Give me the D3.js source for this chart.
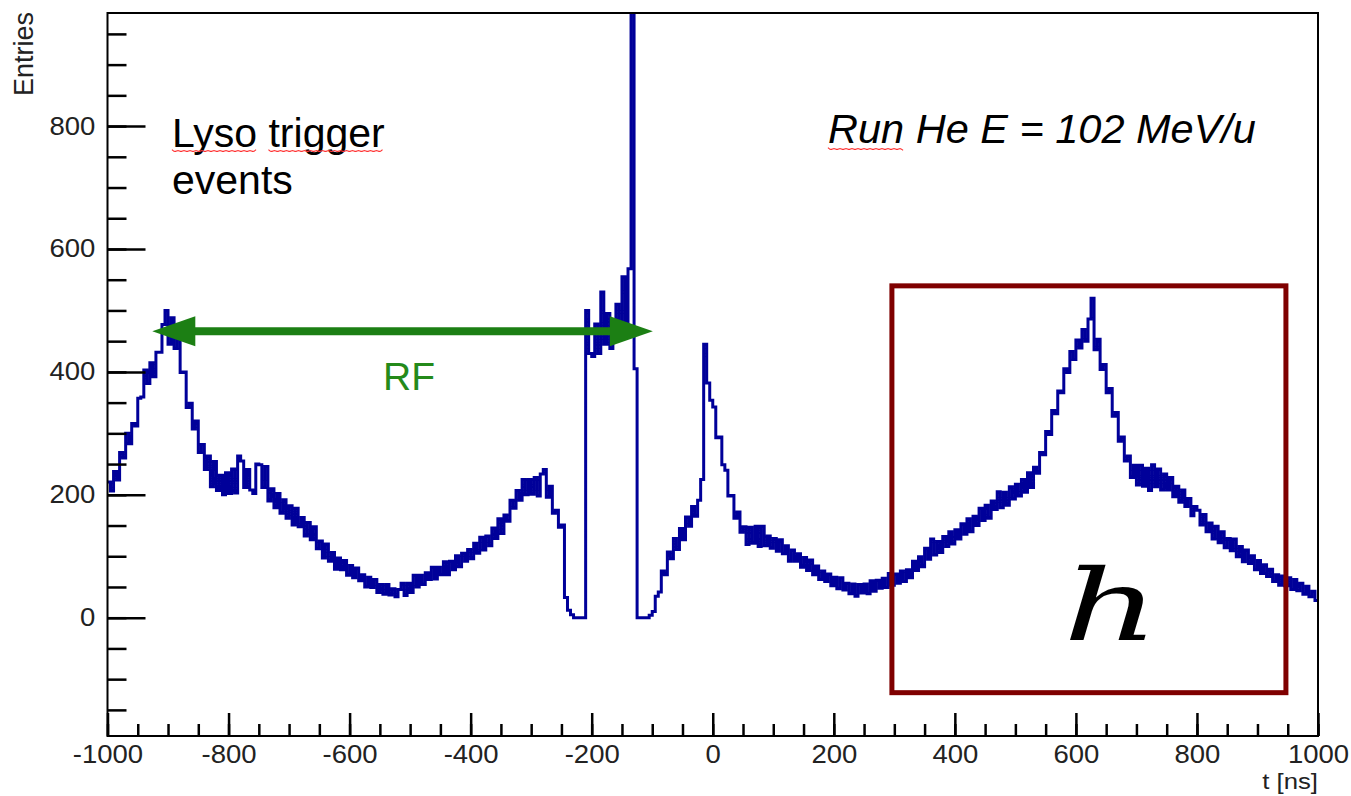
<!DOCTYPE html>
<html>
<head>
<meta charset="utf-8">
<script src="https://cdn.jsdelivr.net/npm/d3@7"></script>
<style>
  body { margin: 0; background: #fff; }
  svg text { font-family: "Liberation Sans", Arial, Helvetica, sans-serif; }
</style>
</head>
<body>
<div id="chart"></div>
<script>
// histogram: 5 ns bins from -1000 ns, counts
const binStart = -1000;
const binWidth = 5;
const counts = [
  221,206,238,224,269,260,300,283,316,312,357,359,403,381,415,392,432,432,477,500,   // -1000
  445,488,438,453,399,400,342,349,307,320,269,282,241,263,213,254,207,232,200,236,   // -900
  202,242,203,263,255,212,241,208,202,250,249,212,246,190,210,179,202,170,192,162,   // -800
  182,151,178,148,163,133,155,127,148,112,125,97,120,92,106,79,97,78,93,69,          // -700
  85,65,81,60,70,50,66,49,62,41,54,38,54,37,47,34,46,56,36,56,                       // -600
  41,69,50,69,54,73,62,82,63,82,70,91,70,92,78,101,83,105,92,111,                    // -500
  96,121,105,131,110,133,117,146,129,161,137,167,157,191,178,207,191,225,200,225,    // -400
  201,228,198,234,241,196,214,170,175,147,151,33,12,5,0,0,0,0,500,430,               // -300
  425,478,430,530,445,495,438,485,510,455,555,470,568,1100,405,0,0,0,0,4,            // -200
  10,35,42,76,70,107,96,129,111,145,127,164,149,181,165,191,225,445,382,354,         // -100
  343,293,294,249,240,198,199,162,172,139,148,119,147,121,149,116,149,117,133,113,   // 0
  129,108,127,104,117,92,110,92,104,82,98,77,94,70,84,62,76,59,71,52,                // 100
  66,47,65,45,56,39,55,35,54,40,55,39,60,43,61,48,64,49,72,53,                       // 200
  71,56,76,59,78,65,92,77,99,83,113,95,128,102,124,106,132,116,140,120,              // 300
  143,128,153,136,161,140,165,150,178,158,183,162,190,176,205,179,204,183,213,193,   // 400
  217,198,225,204,236,212,245,235,269,265,303,298,337,332,369,366,405,399,433,420,   // 500
  452,439,469,450,486,520,436,453,404,412,366,373,328,334,287,294,255,263,228,248,   // 600
  216,248,214,243,207,249,213,242,208,234,208,228,197,214,188,208,181,194,166,181,   // 700
  175,151,168,140,154,128,149,122,140,114,129,109,128,99,116,91,110,88,101,78,       // 800
  93,72,86,67,79,59,70,53,68,52,65,46,62,44,56,38,51,34,43,28                        // 900
];

const xTickValues = [-1000, -800, -600, -400, -200, 0, 200, 400, 600, 800, 1000];
const yTickValues = [0, 200, 400, 600, 800];
const xMinorTicks = d3.range(-1000, 1001, 50);
const yMinorTicks = d3.range(-150, 951, 50);

// annotations in data coordinates
const rfArrow = { from: -926, to: -99, level: 466 };
const boxRegion = { t0: 296, t1: 947, v0: -122, v1: 540 };
const hLabelPos = { t: 658, v: -36 };

const width = 1351, height = 796;

const svg = d3.select("#chart").append("svg")
  .attr("width", width)
  .attr("height", height);

const x = d3.scaleLinear().domain([-1000, 1000]).range([107.5, 1318]);
const y = d3.scaleLinear().domain([-192.5, 984]).range([736, 13]);

svg.append("clipPath").attr("id", "plot-clip")
  .append("rect")
  .attr("x", x(-1000)).attr("y", y(984))
  .attr("width", x(1000) - x(-1000))
  .attr("height", y(-192.5) - y(984));

// histogram as step line
const points = counts.map((c, i) => [binStart + i * binWidth, c]);
points.push([binStart + counts.length * binWidth, counts[counts.length - 1]]);

const histLine = d3.line()
  .x(d => x(d[0]))
  .y(d => y(d[1]))
  .curve(d3.curveStepAfter);

svg.append("path")
  .datum(points)
  .attr("clip-path", "url(#plot-clip)")
  .attr("fill", "none")
  .attr("stroke", "#000099")
  .attr("stroke-width", 3)
  .attr("d", histLine);

// axes (ROOT style, ticks pointing inside)
const plain = d => String(d);

const xMinor = svg.append("g")
  .attr("transform", `translate(0,${y(-192.5)})`)
  .call(d3.axisBottom(x).tickValues(xMinorTicks).tickSize(-12).tickFormat(""));

const xMajor = svg.append("g")
  .attr("transform", `translate(0,${y(-192.5)})`)
  .call(d3.axisBottom(x).tickValues(xTickValues).tickSize(-23).tickPadding(9).tickFormat(plain));

const yMinor = svg.append("g")
  .attr("transform", `translate(${x(-1000)},0)`)
  .call(d3.axisLeft(y).tickValues(yMinorTicks).tickSize(-19).tickFormat(""));

const yMajor = svg.append("g")
  .attr("transform", `translate(${x(-1000)},0)`)
  .call(d3.axisLeft(y).tickValues(yTickValues).tickSize(-38).tickPadding(11).tickFormat(plain));

[xMinor, xMajor, yMinor, yMajor].forEach(g => {
  g.select(".domain").remove();
  g.selectAll("line").attr("stroke", "#000").attr("stroke-width", 2.5);
});

[xMajor, yMajor].forEach(g => {
  g.selectAll("text")
    .attr("fill", "#222")
    .style("font-size", "25px")
    .attr("transform", "scale(1.1,1)");
});

// frame
svg.append("rect")
  .attr("x", x(-1000)).attr("y", y(984))
  .attr("width", x(1000) - x(-1000))
  .attr("height", y(-192.5) - y(984))
  .attr("fill", "none")
  .attr("stroke", "#000")
  .attr("stroke-width", 2);

// axis titles
svg.append("text")
  .attr("text-anchor", "end")
  .attr("transform", `translate(${x(1000)},789) scale(1.12,1)`)
  .attr("fill", "#222")
  .style("font-size", "23px")
  .text("t [ns]");

svg.append("text")
  .attr("text-anchor", "end")
  .attr("transform", "translate(33,12) rotate(-90)")
  .attr("fill", "#222")
  .style("font-size", "27px")
  .text("Entries");

// red box region
svg.append("rect")
  .attr("x", x(boxRegion.t0)).attr("y", y(boxRegion.v1))
  .attr("width", x(boxRegion.t1) - x(boxRegion.t0))
  .attr("height", y(boxRegion.v0) - y(boxRegion.v1))
  .attr("fill", "none")
  .attr("stroke", "#7f0000")
  .attr("stroke-width", 5);

svg.append("text")
  .attr("transform", `translate(${x(hLabelPos.t)},${y(hLabelPos.v)}) scale(1.5,1)`)
  .attr("text-anchor", "middle")
  .style("font-family", "'DejaVu Serif', 'Liberation Serif', serif")
  .style("font-style", "italic")
  .style("font-size", "100px")
  .attr("fill", "#000")
  .text("h");

// green RF arrow
const green = "#1c7f14";
const headLen = 43, headHalf = 15;
const ax0 = x(rfArrow.from), ax1 = x(rfArrow.to), ay = y(rfArrow.level);

svg.append("line")
  .attr("x1", ax0 + headLen - 2).attr("x2", ax1 - headLen + 2)
  .attr("y1", ay).attr("y2", ay)
  .attr("stroke", green)
  .attr("stroke-width", 8);

svg.append("path")
  .attr("fill", green)
  .attr("d", `M${ax0},${ay} L${ax0 + headLen},${ay - headHalf} L${ax0 + headLen},${ay + headHalf} Z`);

svg.append("path")
  .attr("fill", green)
  .attr("d", `M${ax1},${ay} L${ax1 - headLen},${ay - headHalf} L${ax1 - headLen},${ay + headHalf} Z`);

svg.append("text")
  .attr("x", 383).attr("y", 390)
  .attr("fill", "#248a1a")
  .style("font-size", "39px")
  .text("RF");

// slide text boxes
const lyso = svg.append("text")
  .attr("x", 172).attr("y", 147)
  .attr("fill", "#000")
  .style("font-size", "41px")
  .text("Lyso trigger");

svg.append("text")
  .attr("x", 172).attr("y", 194)
  .attr("fill", "#000")
  .style("font-size", "41px")
  .text("events");

const run = svg.append("text")
  .attr("x", 828).attr("y", 143)
  .attr("fill", "#000")
  .style("font-size", "41.5px")
  .style("font-style", "italic")
  .text("Run He E = 102 MeV/u");

// spell-check squiggles under some words
function squiggle(x0, x1, yy) {
  const pts = [];
  for (let px = x0, k = 0; px <= x1; px += 3, k++) {
    pts.push([px, yy + (k % 2 ? 1.4 : -1.4)]);
  }
  svg.append("path")
    .attr("d", d3.line().curve(d3.curveBasis)(pts))
    .attr("fill", "none")
    .attr("stroke", "#ff3333")
    .attr("stroke-width", 1.2);
}

const ln = lyso.node();
squiggle(172, 172 + ln.getSubStringLength(0, 4), 151);
squiggle(172 + ln.getSubStringLength(0, 5), 172 + ln.getSubStringLength(0, 12), 151);
const rn = run.node();
squiggle(828, 828 + rn.getSubStringLength(0, 3), 149);
</script>
</body>
</html>
